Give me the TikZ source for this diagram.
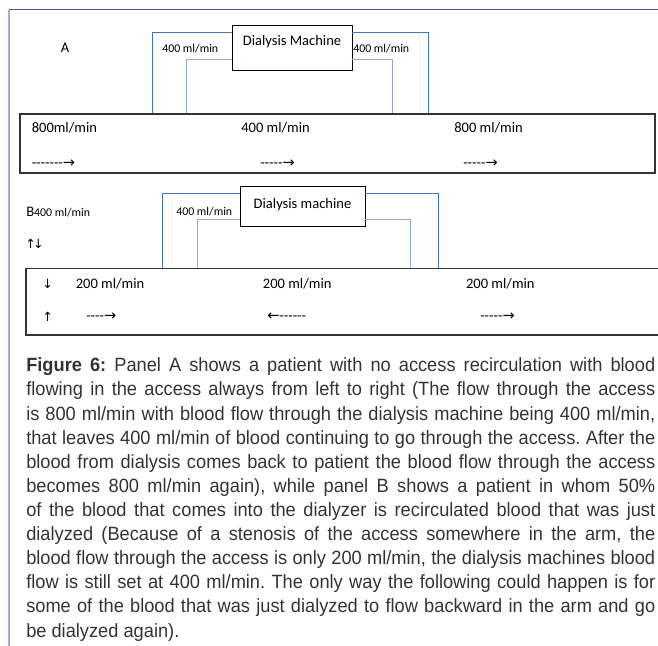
\documentclass[tikz,border=0pt]{standalone}
\usepackage{fontspec}
\setmainfont{Liberation Sans}[FakeStretch=0.95]
\newfontfamily\labelfont{Carlito}[Ligatures=TeXOff]
\newfontfamily\symfont{DejaVu Sans}
\usetikzlibrary{positioning}
\definecolor{tubeblue}{HTML}{4472C4}
\definecolor{tubelight}{HTML}{8EAADB}
\definecolor{framepurple}{HTML}{6F4A9E}
\definecolor{framelilac}{HTML}{B8A2D6}
\definecolor{captiongray}{HTML}{333333}

\begin{document}
\begin{tikzpicture}[x=0.75pt, y=-0.75pt,
  lbl/.style={font=\labelfont\fontsize{10.9}{13}\selectfont, anchor=west, inner sep=0},
  smalllbl/.style={font=\labelfont\fontsize{8.9}{11}\selectfont, anchor=west, inner sep=0},
  access/.style={draw=black!80, line width=1pt, inner sep=0},
  machine/.style={draw=black, line width=0.7pt, inner sep=0, font=\labelfont\fontsize{10.9}{13}\selectfont},
  tube/.style={tubeblue, line width=0.6pt},
  innertube/.style={tubelight, line width=0.7pt}]
\useasboundingbox (0,0) rectangle (658,646);
\draw[framepurple, line width=0.9pt] (9,9.5) -- (658,9.5);
\draw[framelilac, line width=1.6pt] (9,9.5) -- (9,646);

% panel A
\node[access, minimum width=476.25pt, minimum height=44.25pt] (accA) at (337.5,143.5) {};
\node[machine, minimum width=90pt, text height=15.4pt, text depth=18.4pt] (machA) at (292,47.5) {Dialysis Machine};
\coordinate (aOutL) at (152,32);
\coordinate (aInL) at (186,59.3);
\coordinate (aOutR) at (428,32);
\coordinate (aInR) at (392.5,59.3);
\draw[tube] (machA.west |- aOutL) -| (aOutL |- accA.north);
\draw[innertube] (machA.west |- aInL) -| (aInL |- accA.north);
\draw[tube] (machA.east |- aOutR) -| (aOutR |- accA.north);
\draw[innertube] (machA.east |- aInR) -| (aInR |- accA.north);
\node[lbl] (labA) at (60.5,48) {A};
\node[smalllbl] (inA) at (162,48.3) {400 ml/min};
\node[smalllbl] (outA) at (353,48.3) {400 ml/min};
\foreach \x/\t [count=\i] in {31.5/{800ml/min},241/{400 ml/min},454/{800 ml/min}}
  \node[lbl] (rateA\i) at (\x,128) {\t};
\foreach \x/\t [count=\i] in {31.5/{-------},260/{-----},463/{-----}}
  \node[lbl] (flowA\i) at (\x,164) {\t{\symfont →}};

% panel B
\node[access, minimum width=476.25pt, minimum height=50pt] (accB) at (343.5,301.7) {};
\node[machine, minimum width=93.75pt, text height=16pt, text depth=13.7pt] (machB) at (302.5,206.5) {Dialysis machine};
\coordinate (bOutL) at (162,193.3);
\coordinate (bInL) at (197,219);
\coordinate (bOutR) at (438.5,193.3);
\coordinate (bInR) at (410,219);
\draw[tube] (machB.west |- bOutL) -| (bOutL |- accB.north);
\draw[innertube] (machB.west |- bInL) -| (bInL |- accB.north);
\draw[tube] (machB.east |- bOutR) -| (bOutR |- accB.north);
\draw[innertube] (machB.east |- bInR) -| (bInR |- accB.north);
\node[lbl] (labB) at (26,212) {B{\fontsize{8.9}{11}\selectfont 400 ml/min}};
\node[lbl] (updown) at (25,244) {\symfont\fontsize{9.5}{11}\selectfont ↑\kern-2pt↓};
\node[smalllbl] (inB) at (176,211.7) {400 ml/min};
\node[lbl] (downB) at (42,284) {\symfont\fontsize{9.5}{11}\selectfont ↓};
\node[lbl] (upB) at (42,317) {\symfont\fontsize{9.5}{11}\selectfont ↑};
\foreach \x [count=\i] in {75.5,262.7,465.8}
  \node[lbl] (rateB\i) at (\x,284) {200 ml/min};
\node[lbl] (flowB1) at (86,317) {----{\symfont →}};
\node[lbl] (flowB2) at (267,317) {{\symfont ←}------};
\node[lbl] (flowB3) at (480,317) {-----{\symfont →}};

% caption
\node[anchor=north west, inner sep=0, text width=471.75pt, align=justify, text=captiongray,
  font=\fontsize{14.4}{18.08}\selectfont] (caption) at (26,357.7) {%
\tolerance=10000\relax\hyphenpenalty=10000\relax\frenchspacing
\textbf{Figure 6:} Panel A shows a patient with no access recirculation with blood\linebreak
flowing in the access always from left to right (The flow through the access\linebreak
is 800 ml/min with blood flow through the dialysis machine being 400 ml/min,\linebreak
that leaves 400 ml/min of blood continuing to go through the access. After the\linebreak
blood from dialysis comes back to patient the blood flow through the access\linebreak
becomes 800 ml/min again), while panel B shows a patient in whom 50\%\linebreak
of the blood that comes into the dialyzer is recirculated blood that was just\linebreak
dialyzed (Because of a stenosis of the access somewhere in the arm, the\linebreak
blood flow through the access is only 200 ml/min, the dialysis machines blood\linebreak
flow is still set at 400 ml/min. The only way the following could happen is for\linebreak
some of the blood that was just dialyzed to flow backward in the arm and go\linebreak
be dialyzed again).};
\end{tikzpicture}
\end{document}
